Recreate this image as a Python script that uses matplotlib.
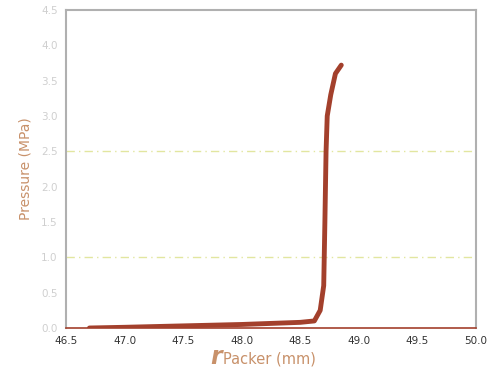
import matplotlib.pyplot as plt
import numpy as np

# Packer radius vs pressure
r_packer = [46.7, 47.0, 47.5, 48.0, 48.5, 48.62, 48.67, 48.70, 48.71, 48.72, 48.73, 48.76, 48.80, 48.85]
pressure = [0.0, 0.01, 0.03, 0.05, 0.08, 0.10, 0.25, 0.6, 1.5, 2.5, 3.0, 3.3, 3.6, 3.72]

ref_levels = [1.0, 2.5]
x_ticks = [46.5, 47.0, 47.5, 48.0, 48.5, 49.0, 49.5, 50.0]
y_ticks = np.arange(0, 4.51, 0.5)

fig = plt.figure(figsize=(4.87, 3.73), dpi=100)
ax = fig.add_axes([66/487, 1 - 328/373, 410/487, 318/373])

for lv in ref_levels:
    ax.axhline(lv, color='#e2e6a0', lw=1.0, ls=(0, (6, 3, 1, 3)), zorder=1)

ax.plot(r_packer, pressure, color='#a3402c', lw=3.5, solid_capstyle='round',
        solid_joinstyle='round', zorder=3)

ax.set_xlim(46.5, 50.0)
ax.set_ylim(0, 4.5)
ax.set_xticks(x_ticks)
ax.set_xticklabels([f'{v:.1f}' for v in x_ticks], fontsize=7.5, color='#333333')
ax.set_yticks(y_ticks)
ax.set_yticklabels([f'{v:.1f}' for v in y_ticks], fontsize=7.5, color='#cfcfcf')
ax.tick_params(length=0, pad=6)

for s in ['top', 'left', 'right']:
    ax.spines[s].set_color('#b0b0b0')
    ax.spines[s].set_linewidth(1.5)
ax.spines['bottom'].set_color('#a3402c')
ax.spines['bottom'].set_linewidth(1.2)

ax.set_ylabel('Pressure (MPa)', color='#c8916a', fontsize=10, labelpad=6)

# x label: large italic r followed by "Packer (mm)"
fig.text(0.456, 0.025, 'r', color='#c8916a', fontsize=17, style='italic',
         fontweight='bold', ha='right', va='baseline')
fig.text(0.458, 0.025, 'Packer (mm)', color='#c8916a', fontsize=10.5,
         ha='left', va='baseline')

fig.savefig('out.png', dpi=100)
